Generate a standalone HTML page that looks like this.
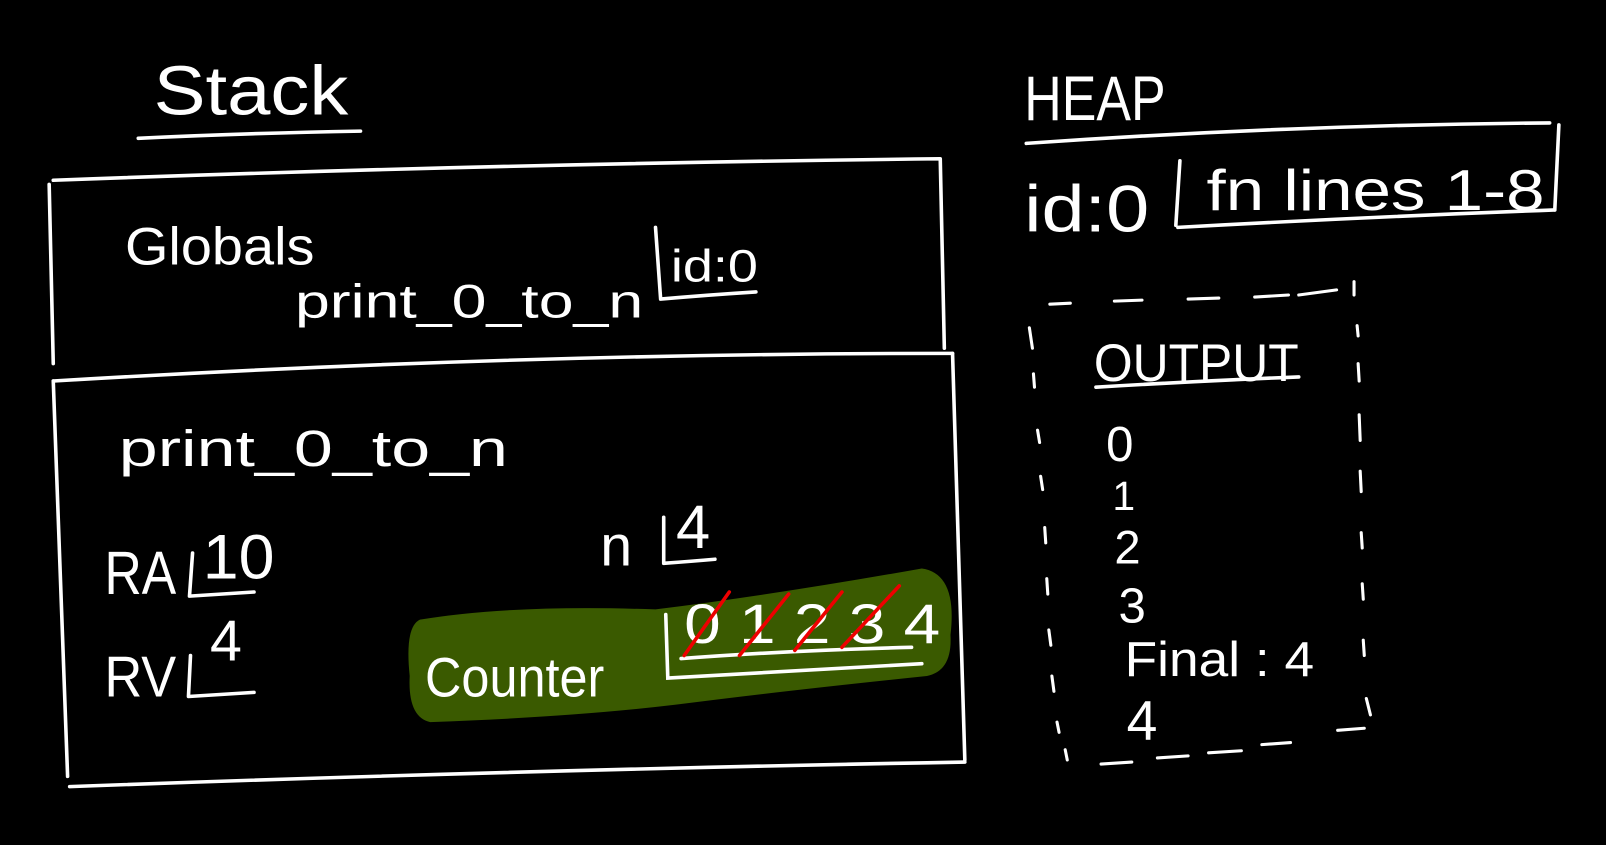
<!DOCTYPE html>
<html><head><meta charset="utf-8"><style>
html,body{margin:0;padding:0;background:#000;overflow:hidden}
svg{display:block}
text{font-family:"Liberation Sans",sans-serif;fill:#fff;font-weight:normal}
</style></head><body>
<svg width="1606" height="845" viewBox="0 0 1568 825" xmlns="http://www.w3.org/2000/svg">
<rect width="1568" height="825" fill="#000"/>
<g fill="none" stroke="#fff" stroke-width="3.5" stroke-linecap="round" stroke-linejoin="round">
<!-- Stack title underline -->
<path d="M135 135 Q240 130 352 128"/>
<!-- Stack box -->
<path d="M52 176 Q480 160 918 155 L922 340"/>
<path d="M48 180 L52 355"/>
<path d="M52 372 Q500 345 930 345"/>
<path d="M52 372 L66 758"/>
<path d="M930 345 L942 742"/>
<path d="M68 768 Q500 752 942 744"/>
<!-- heap -->
<path d="M1002 140 Q1260 122 1513 120"/>
<path d="M1152 157 L1148 220"/>
<path d="M1150 222 Q1330 212 1518 205"/>
<path d="M1522 122 L1518 205"/>
<!-- id:0 bracket in globals -->
<path d="M640 222 L645 292 Q690 288 738 285"/>
<!-- RA/RV/n brackets -->
<path d="M188 540 L185 582 Q215 580 248 578"/>
<path d="M186 640 L184 680 Q215 678 248 676"/>
<path d="M648 505 L648 550 Q675 548 698 546"/>
<!-- output dashed box -->
<g stroke-width="3">
<path d="M1025 297 L1045 296"/><path d="M1088 294 L1115 293"/><path d="M1160 292 L1190 291"/><path d="M1225 290 L1258 288"/><path d="M1268 288 L1305 283"/>
<path d="M1322 275 L1322 288"/><path d="M1325 318 L1326 328"/><path d="M1326 355 L1327 372"/><path d="M1327 405 L1328 430"/><path d="M1328 460 L1329 480"/><path d="M1329 520 L1330 535"/><path d="M1330 570 L1331 585"/><path d="M1331 625 L1332 640"/><path d="M1334 682 L1338 698"/>
<path d="M1306 713 L1332 711"/><path d="M1232 727 L1260 725"/><path d="M1180 735 L1212 733"/><path d="M1130 740 L1160 738"/><path d="M1075 746 L1105 744"/>
<path d="M1005 320 L1008 340"/><path d="M1009 365 L1010 378"/><path d="M1013 420 L1015 432"/><path d="M1016 465 L1018 478"/><path d="M1020 515 L1021 530"/><path d="M1022 565 L1023 580"/><path d="M1024 615 L1026 630"/><path d="M1027 660 L1029 675"/><path d="M1032 705 L1034 715"/><path d="M1040 732 L1042 742"/>
</g>
<!-- OUTPUT underline -->
<path d="M1070 378 Q1170 372 1268 368"/>
</g>
<!-- Green highlight -->
<path d="M410 605 Q500 590 640 595 Q760 580 900 555 Q935 560 928 620 Q930 655 905 660 Q760 675 660 688 Q560 700 420 705 Q398 700 400 660 Q395 612 410 605Z" fill="#3a5a00"/>
<g fill="none" stroke="#fff" stroke-width="3.5" stroke-linecap="round">
<path d="M650 600 L652 662 Q780 655 900 648"/>
<path d="M665 643 Q770 635 890 632"/>
</g>
<!-- Text -->
<text x="150" y="112" font-size="68" textLength="190" lengthAdjust="spacingAndGlyphs">Stack</text>
<text x="1000" y="117" font-size="62" textLength="138" lengthAdjust="spacingAndGlyphs">HEAP</text>
<text x="122" y="258" font-size="52" textLength="185" lengthAdjust="spacingAndGlyphs">Globals</text>
<text x="288" y="310" font-size="46" textLength="340" lengthAdjust="spacingAndGlyphs">print_0_to_n</text>
<text x="655" y="275" font-size="44" textLength="85" lengthAdjust="spacingAndGlyphs">id:0</text>
<text x="116" y="455" font-size="50" textLength="380" lengthAdjust="spacingAndGlyphs">print_0_to_n</text>
<text x="102" y="580" font-size="60" textLength="70" lengthAdjust="spacingAndGlyphs">RA</text>
<text x="198" y="565" font-size="62" textLength="70" lengthAdjust="spacingAndGlyphs">10</text>
<text x="102" y="680" font-size="56" textLength="70" lengthAdjust="spacingAndGlyphs">RV</text>
<text x="205" y="645" font-size="56">4</text>
<text x="586" y="552" font-size="56">n</text>
<text x="660" y="535" font-size="60">4</text>
<text x="415" y="680" font-size="54" textLength="175" lengthAdjust="spacingAndGlyphs">Counter</text>
<text x="668" y="628" font-size="54" textLength="250" lengthAdjust="spacingAndGlyphs">0 1 2 3  4</text>
<g stroke="#e00" stroke-width="3.5" stroke-linecap="round">
<path d="M668 640 L712 578"/><path d="M722 640 L770 580"/><path d="M776 635 L822 578"/><path d="M822 632 L878 572"/>
</g>
<text x="1000" y="226" font-size="64" textLength="122" lengthAdjust="spacingAndGlyphs">id:0</text>
<text x="1178" y="205" font-size="56" textLength="330" lengthAdjust="spacingAndGlyphs">fn  lines  1-8</text>
<text x="1068" y="372" font-size="52" textLength="200" lengthAdjust="spacingAndGlyphs">OUTPUT</text>
<text x="1080" y="450" font-size="48">0</text>
<text x="1086" y="498" font-size="40">1</text>
<text x="1088" y="550" font-size="46">2</text>
<text x="1092" y="608" font-size="48">3</text>
<text x="1098" y="660" font-size="48" textLength="185" lengthAdjust="spacingAndGlyphs">Final : 4</text>
<text x="1100" y="722" font-size="54">4</text>
</svg>
</body></html>
